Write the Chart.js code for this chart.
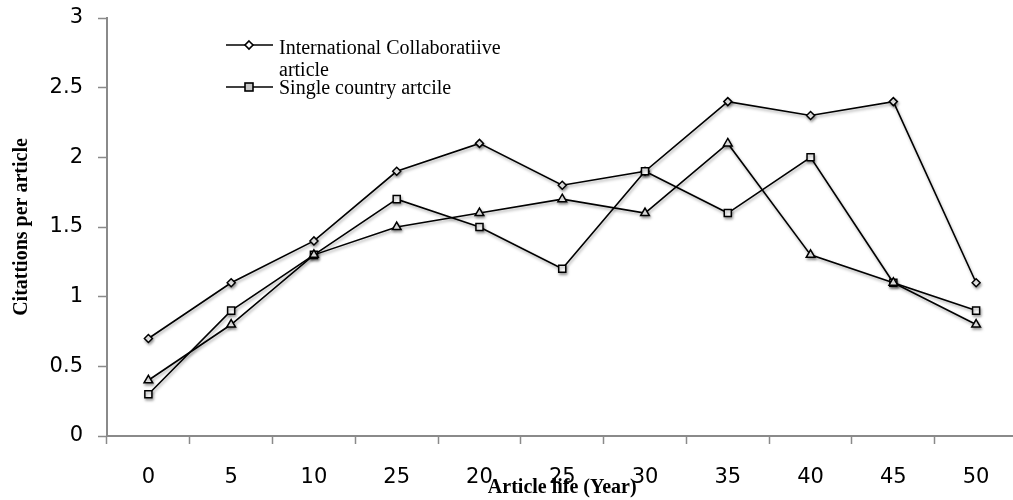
<!DOCTYPE html>
<html>
<head>
<meta charset="utf-8">
<script src="https://cdn.jsdelivr.net/npm/chart.js@4"></script>
<style>
  body { margin: 0; overflow: hidden; background: #fff; }
  #wrap { width: 1024px; height: 500px; position: relative; }
</style>
</head>
<body>
<div id="wrap"><canvas id="myChart"></canvas></div>
<script>
// values
var categories = ['0', '5', '10', '25', '20', '25', '30', '35', '40', '45', '50'];
var international = [0.7, 1.1, 1.4, 1.9, 2.1, 1.8, 1.9, 2.4, 2.3, 2.4, 1.1];
var singleCountry = [0.3, 0.9, 1.3, 1.7, 1.5, 1.2, 1.9, 1.6, 2.0, 1.1, 0.9];
var thirdSeries = [0.4, 0.8, 1.3, 1.5, 1.6, 1.7, 1.6, 2.1, 1.3, 1.1, 0.8];
var legendLabels = ['International Collaboratiive', 'article', 'Single country artcile'];

var axisGrey = '#8a8a8a';
var tickFont = { family: 'DejaVu Sans', size: 21 };
var titleFont = { family: 'Liberation Serif', size: 20, weight: 'bold' };

function series(data, style, radius) {
    return {
        data: data,
        borderColor: '#000',
        borderWidth: 1.6,
        pointStyle: style,
        pointRadius: radius,
        pointBorderWidth: 1.5,
        pointBorderColor: '#000',
        pointBackgroundColor: '#fff',
        tension: 0,
        fill: false
    };
}

// soft drop shadow under the lines, like the original
var shadowPlugin = {
    id: 'shadow',
    beforeDatasetsDraw: function (chart) {
        var ctx = chart.ctx;
        ctx.save();
        ctx.shadowColor = 'rgba(0,0,0,0.35)';
        ctx.shadowBlur = 3;
        ctx.shadowOffsetX = 1;
        ctx.shadowOffsetY = 2;
    },
    afterDatasetsDraw: function (chart) {
        chart.ctx.restore();
    }
};

// legend sits inside the plot, top left
var legendPlugin = {
    id: 'innerLegend',
    afterDraw: function (chart) {
        var ctx = chart.ctx;
        var x0 = 226, x1 = 273, xm = 249;
        ctx.save();
        ctx.strokeStyle = '#000';
        ctx.lineWidth = 1.6;
        // diamond entry
        ctx.beginPath();
        ctx.moveTo(x0, 45); ctx.lineTo(x1, 45); ctx.stroke();
        ctx.fillStyle = '#fff';
        ctx.beginPath();
        ctx.moveTo(xm, 41); ctx.lineTo(xm + 4, 45); ctx.lineTo(xm, 49); ctx.lineTo(xm - 4, 45); ctx.closePath();
        ctx.fill(); ctx.stroke();
        // square entry
        ctx.beginPath();
        ctx.moveTo(x0, 87); ctx.lineTo(x1, 87); ctx.stroke();
        ctx.fillStyle = '#c8c8c8';
        ctx.fillRect(xm - 4, 83, 8, 8);
        ctx.strokeRect(xm - 4, 83, 8, 8);

        ctx.fillStyle = '#000';
        ctx.font = '20px "Liberation Serif"';
        ctx.textBaseline = 'alphabetic';
        ctx.textAlign = 'left';
        ctx.fillText(legendLabels[0], 279, 54);
        ctx.fillText(legendLabels[1], 279, 76);
        ctx.fillText(legendLabels[2], 279, 94);
        ctx.restore();
    }
};

var ctx = document.getElementById('myChart').getContext('2d');
var myChart = new Chart(ctx, {
    type: 'line',
    data: {
        labels: categories,
        datasets: [
            series(thirdSeries, 'triangle', 5),
            series(singleCountry, 'rect', 5),
            series(international, 'rectRot', 4)
        ]
    },
    options: {
        responsive: true,
        maintainAspectRatio: false,
        animation: false,
        devicePixelRatio: 1,
        layout: { padding: { top: 18, right: 2, left: 0, bottom: 0 } },
        plugins: {
            legend: { display: false },
            tooltip: { enabled: false }
        },
        scales: {
            x: {
                type: 'category',
                offset: true,
                grid: {
                    display: true,
                    drawOnChartArea: false,
                    offset: true,
                    tickLength: 8,
                    tickColor: axisGrey,
                    tickWidth: 1.5
                },
                border: { color: axisGrey, width: 2 },
                ticks: { font: tickFont, color: '#000', padding: 21, maxRotation: 0, autoSkip: false },
                title: {
                    display: true,
                    text: 'Article life (Year)',
                    font: titleFont,
                    color: '#000',
                    padding: { top: 0, bottom: 0 }
                },
                afterFit: function (scale) {
                    scale.height = 64;
                    scale.paddingLeft = 0;
                    scale.paddingRight = 0;
                }
            },
            y: {
                min: 0,
                max: 3,
                ticks: {
                    stepSize: 0.5,
                    font: tickFont,
                    color: '#000',
                    padding: 15,
                    callback: function (value) { return String(value); }
                },
                grid: {
                    drawOnChartArea: false,
                    tickLength: 9,
                    tickColor: axisGrey,
                    tickWidth: 1.5
                },
                border: { color: axisGrey, width: 2 },
                title: {
                    display: true,
                    text: 'Citattions per article',
                    font: titleFont,
                    color: '#000',
                    padding: { top: 10, bottom: 0 }
                },
                afterFit: function (scale) {
                    scale.width = 107;
                    scale.paddingTop = 0;
                    scale.paddingBottom = 0;
                }
            }
        }
    },
    plugins: [shadowPlugin, legendPlugin]
});
</script>
</body>
</html>
